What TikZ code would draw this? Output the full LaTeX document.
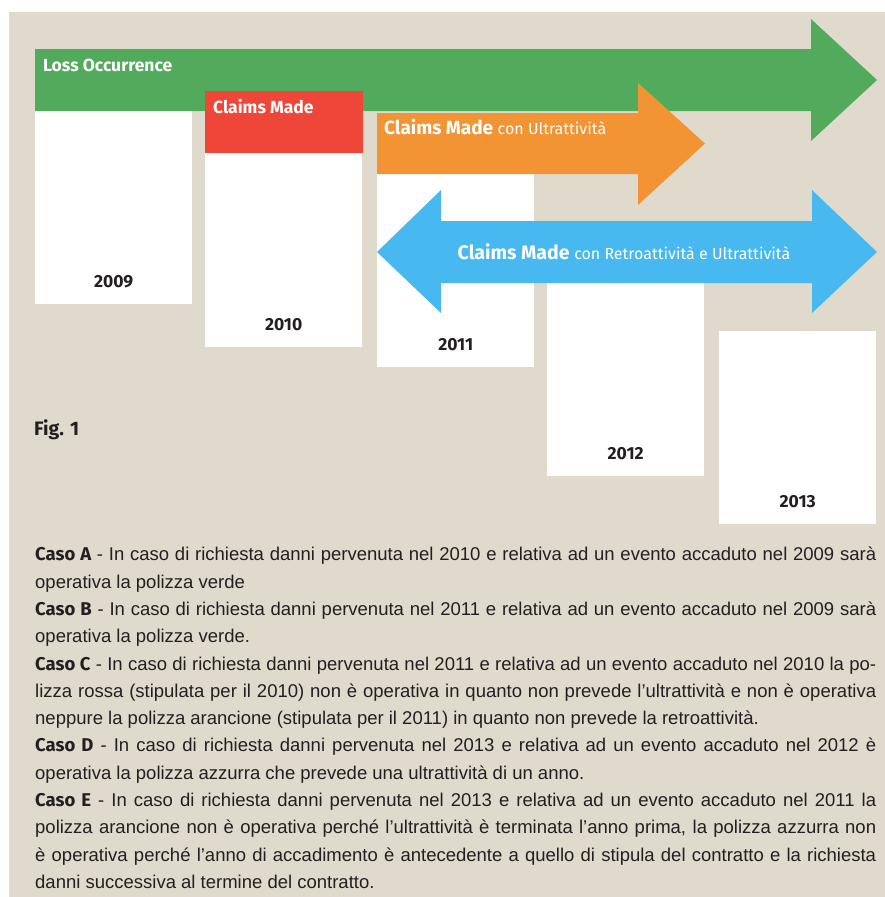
\documentclass[tikz,border=0pt]{standalone}
\usepackage{fontspec}
\setmainfont{Liberation Sans}
\newfontfamily\labelfont{Fira Sans}
\newcommand\barsubfont{\mdseries\fontsize{16}{19}\selectfont}
\usetikzlibrary{positioning}
\hyphenpenalty=10000
\tolerance=9999

\definecolor{beige}{RGB}{224,218,205}
\definecolor{lossgreen}{RGB}{82,171,92}
\definecolor{madered}{RGB}{238,70,56}
\definecolor{ultraorange}{RGB}{242,148,52}
\definecolor{retroblue}{RGB}{71,185,240}
\definecolor{inkdark}{RGB}{35,31,32}

\begin{document}
\begin{tikzpicture}
[x=1pt,y=-1pt,
 yearbox/.style={fill=white,anchor=north west,inner sep=0pt,minimum width=157pt},
 year/.style={font=\labelfont\bfseries\fontsize{17.5}{20}\selectfont,text=inkdark,inner sep=0pt},
 bartitle/.style={font=\labelfont\bfseries\fontsize{17.5}{20}\selectfont,text=white,inner sep=0pt},
]

%Background
\useasboundingbox (0,0) rectangle (885,897);
\fill[white] (0,0) rectangle (885,897);
\fill[beige] (9,12) rectangle (885,897);

%Year boxes
\node (b2009) at (35,100)[yearbox,minimum height=204pt] {};
\node (b2010) at (205,150)[yearbox,minimum height=197pt] {};
\node (b2011) at (377,170)[yearbox,minimum height=197pt] {};
\node (b2012) at (547,230)[yearbox,minimum height=246pt] {};
\node (b2013) at (719,331)[yearbox,minimum height=193pt] {};

%Labeling years
\node (y2009)[year,above=16pt of b2009.south] {2009};
\node (y2010)[year,above=16pt of b2010.south] {2010};
\node (y2011)[year,above=16pt of b2011.south] {2011};
\node (y2012)[year,above=16pt of b2012.south] {2012};
\node (y2013)[year,above=16pt of b2013.south] {2013};

%Drawing policy arrows
\fill[lossgreen] (35,49) -- (811,49) -- (811,19) -- (877,80) -- (811,141) -- (811,111) -- (35,111) -- cycle;
\fill[madered] (205,91) rectangle (363,153);
\fill[ultraorange] (377,113) -- (638,113) -- (638,83) -- (705,143.5) -- (638,205) -- (638,174) -- (377,174) -- cycle;
\fill[retroblue] (377,252) -- (441,190) -- (441,221) -- (812,221) -- (812,190) -- (877,252)
  -- (812,313) -- (812,283) -- (441,283) -- (441,313) -- cycle;

%Labeling arrows
\node (loss) at (43,65)[bartitle,anchor=west] {Loss Occurrence};
\node (made) at (213,107)[bartitle,anchor=west] {Claims Made};
\node (ultra) at (384,127)[bartitle,anchor=west,font=\labelfont\bfseries\fontsize{19}{22}\selectfont] {Claims Made {\barsubfont con Ultrattività}};
\node (retro) at (624,252)[bartitle,font=\labelfont\bfseries\fontsize{19.5}{22}\selectfont] {Claims Made {\barsubfont con Retroattività e Ultrattività}};

\node (fig) at (34,430)[anchor=west,inner sep=0pt,text=inkdark,font=\labelfont\bfseries\fontsize{19.5}{22}\selectfont] {Fig. 1};

%Cases
\node (cases) at (35,547)[anchor=north west,inner sep=0pt,text width=841pt,align=justify,text=inkdark,
  font=\fontsize{18.5}{27.3}\selectfont] {%
{\labelfont\bfseries Caso A} - In caso di richiesta danni pervenuta nel 2010 e relativa ad un evento accaduto nel 2009 sarà\linebreak
operativa la polizza verde\\
{\labelfont\bfseries Caso B} - In caso di richiesta danni pervenuta nel 2011 e relativa ad un evento accaduto nel 2009 sarà\linebreak
operativa la polizza verde.\\
{\labelfont\bfseries Caso C} - In caso di richiesta danni pervenuta nel 2011 e relativa ad un evento accaduto nel 2010 la po-\linebreak
lizza rossa (stipulata per il 2010) non è operativa in quanto non prevede l'ultrattività e non è operativa\linebreak
neppure la polizza arancione (stipulata per il 2011) in quanto non prevede la retroattività.\\
{\labelfont\bfseries Caso D} - In caso di richiesta danni pervenuta nel 2013 e relativa ad un evento accaduto nel 2012 è\linebreak
operativa la polizza azzurra che prevede una ultrattività di un anno.\\
{\labelfont\bfseries Caso E} - In caso di richiesta danni pervenuta nel 2013 e relativa ad un evento accaduto nel 2011 la\linebreak
polizza arancione non è operativa perché l'ultrattività è terminata l'anno prima, la polizza azzurra non\linebreak
è operativa perché l'anno di accadimento è antecedente a quello di stipula del contratto e la richiesta\linebreak
danni successiva al termine del contratto.};

\end{tikzpicture}
\end{document}
